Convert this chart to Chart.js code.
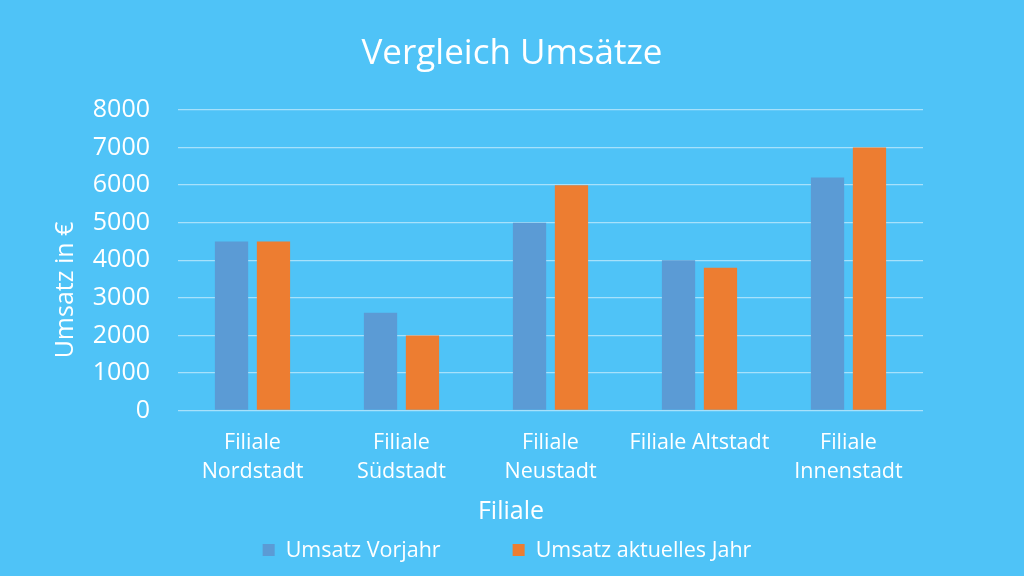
<!DOCTYPE html>
<html>
<head>
<meta charset="utf-8">
<script src="https://cdn.jsdelivr.net/npm/chart.js@4"></script>
<style>
  html, body { margin: 0; padding: 0; background: #4fc3f7; }
  #wrap { width: 1024px; height: 576px; }
</style>
</head>
<body>
<div id="wrap"><canvas id="chart"></canvas></div>
<script>
const branches = [['Filiale', 'Nordstadt'], ['Filiale', 'Südstadt'], ['Filiale', 'Neustadt'], 'Filiale Altstadt', ['Filiale', 'Innenstadt']];
const lastYear = [4500, 2600, 5000, 4000, 6200];
const thisYear = [4500, 2000, 6000, 3800, 7000];
const seriesNames = ['Umsatz Vorjahr', 'Umsatz aktuelles Jahr'];
const yTicks = [0, 1000, 2000, 3000, 4000, 5000, 6000, 7000, 8000];

const font = 'Open Sans';
const white = '#ffffff';

// axis titles and legend drawn by hand so their spots match
const extras = {
  id: 'extras',
  afterDraw(chart) {
    const ctx = chart.ctx;
    ctx.save();
    ctx.fillStyle = white;
    ctx.textAlign = 'center';
    ctx.textBaseline = 'middle';
    ctx.font = '25px "' + font + '"';
    ctx.fillText('Filiale', 511, 512);
    ctx.translate(66, 290);
    ctx.rotate(-Math.PI / 2);
    ctx.fillText('Umsatz in €', 0, 0);
    ctx.restore();

    ctx.save();
    ctx.font = '21.5px "' + font + '"';
    ctx.textBaseline = 'middle';
    const sets = chart.data.datasets;
    const widths = sets.map(d => ctx.measureText(d.label).width);
    let total = 0;
    widths.forEach((w, i) => { total += 12 + 11 + w + (i ? 72 : 0); });
    let x = 507 - total / 2;
    const y = 550;
    sets.forEach((d, i) => {
      ctx.fillStyle = d.backgroundColor;
      ctx.fillRect(x, y - 6, 12, 12);
      ctx.fillStyle = white;
      ctx.fillText(d.label, x + 23, y + 1);
      x += 23 + widths[i] + 72;
    });
    ctx.restore();
  }
};

new Chart(document.getElementById('chart'), {
  type: 'bar',
  data: {
    labels: branches,
    datasets: [
      { label: seriesNames[0], data: lastYear, backgroundColor: '#5b9bd5' },
      { label: seriesNames[1], data: thisYear, backgroundColor: '#ed7d31' }
    ]
  },
  options: {
    responsive: true,
    maintainAspectRatio: false,
    animation: false,
    layout: { padding: 0 },
    datasets: { bar: { categoryPercentage: 0.563, barPercentage: 0.793 } },
    plugins: {
      legend: { display: false },
      tooltip: { enabled: false },
      title: {
        display: true,
        text: 'Vergleich Umsätze',
        color: white,
        font: { family: font, size: 35, weight: 'normal', lineHeight: 1.2 },
        padding: { top: 33, bottom: 35 }
      }
    },
    scales: {
      x: {
        grid: { display: false, drawTicks: false },
        border: { display: false },
        ticks: {
          color: white,
          font: { family: font, size: 21.5, lineHeight: 1.33 },
          padding: 18,
          maxRotation: 0,
          autoSkip: false
        },
        afterFit(scale) { scale.height = 165.5; }
      },
      y: {
        min: 0,
        max: 8000,
        afterBuildTicks(scale) { scale.ticks = yTicks.map(v => ({ value: v })); },
        grid: { color: 'rgba(255,255,255,0.5)', lineWidth: 1.3, drawTicks: false },
        border: { display: false },
        ticks: {
          color: white,
          font: { family: font, size: 25 },
          padding: 28,
          callback: v => String(v)
        },
        afterFit(scale) { scale.width = 178; }
      },
      // empty right edge, keeps the plot off the right side
      side: {
        position: 'right',
        display: true,
        grid: { display: false, drawTicks: false },
        border: { display: false },
        ticks: { display: false },
        afterFit(scale) { scale.width = 101; }
      }
    }
  },
  plugins: [extras]
});
</script>
</body>
</html>
